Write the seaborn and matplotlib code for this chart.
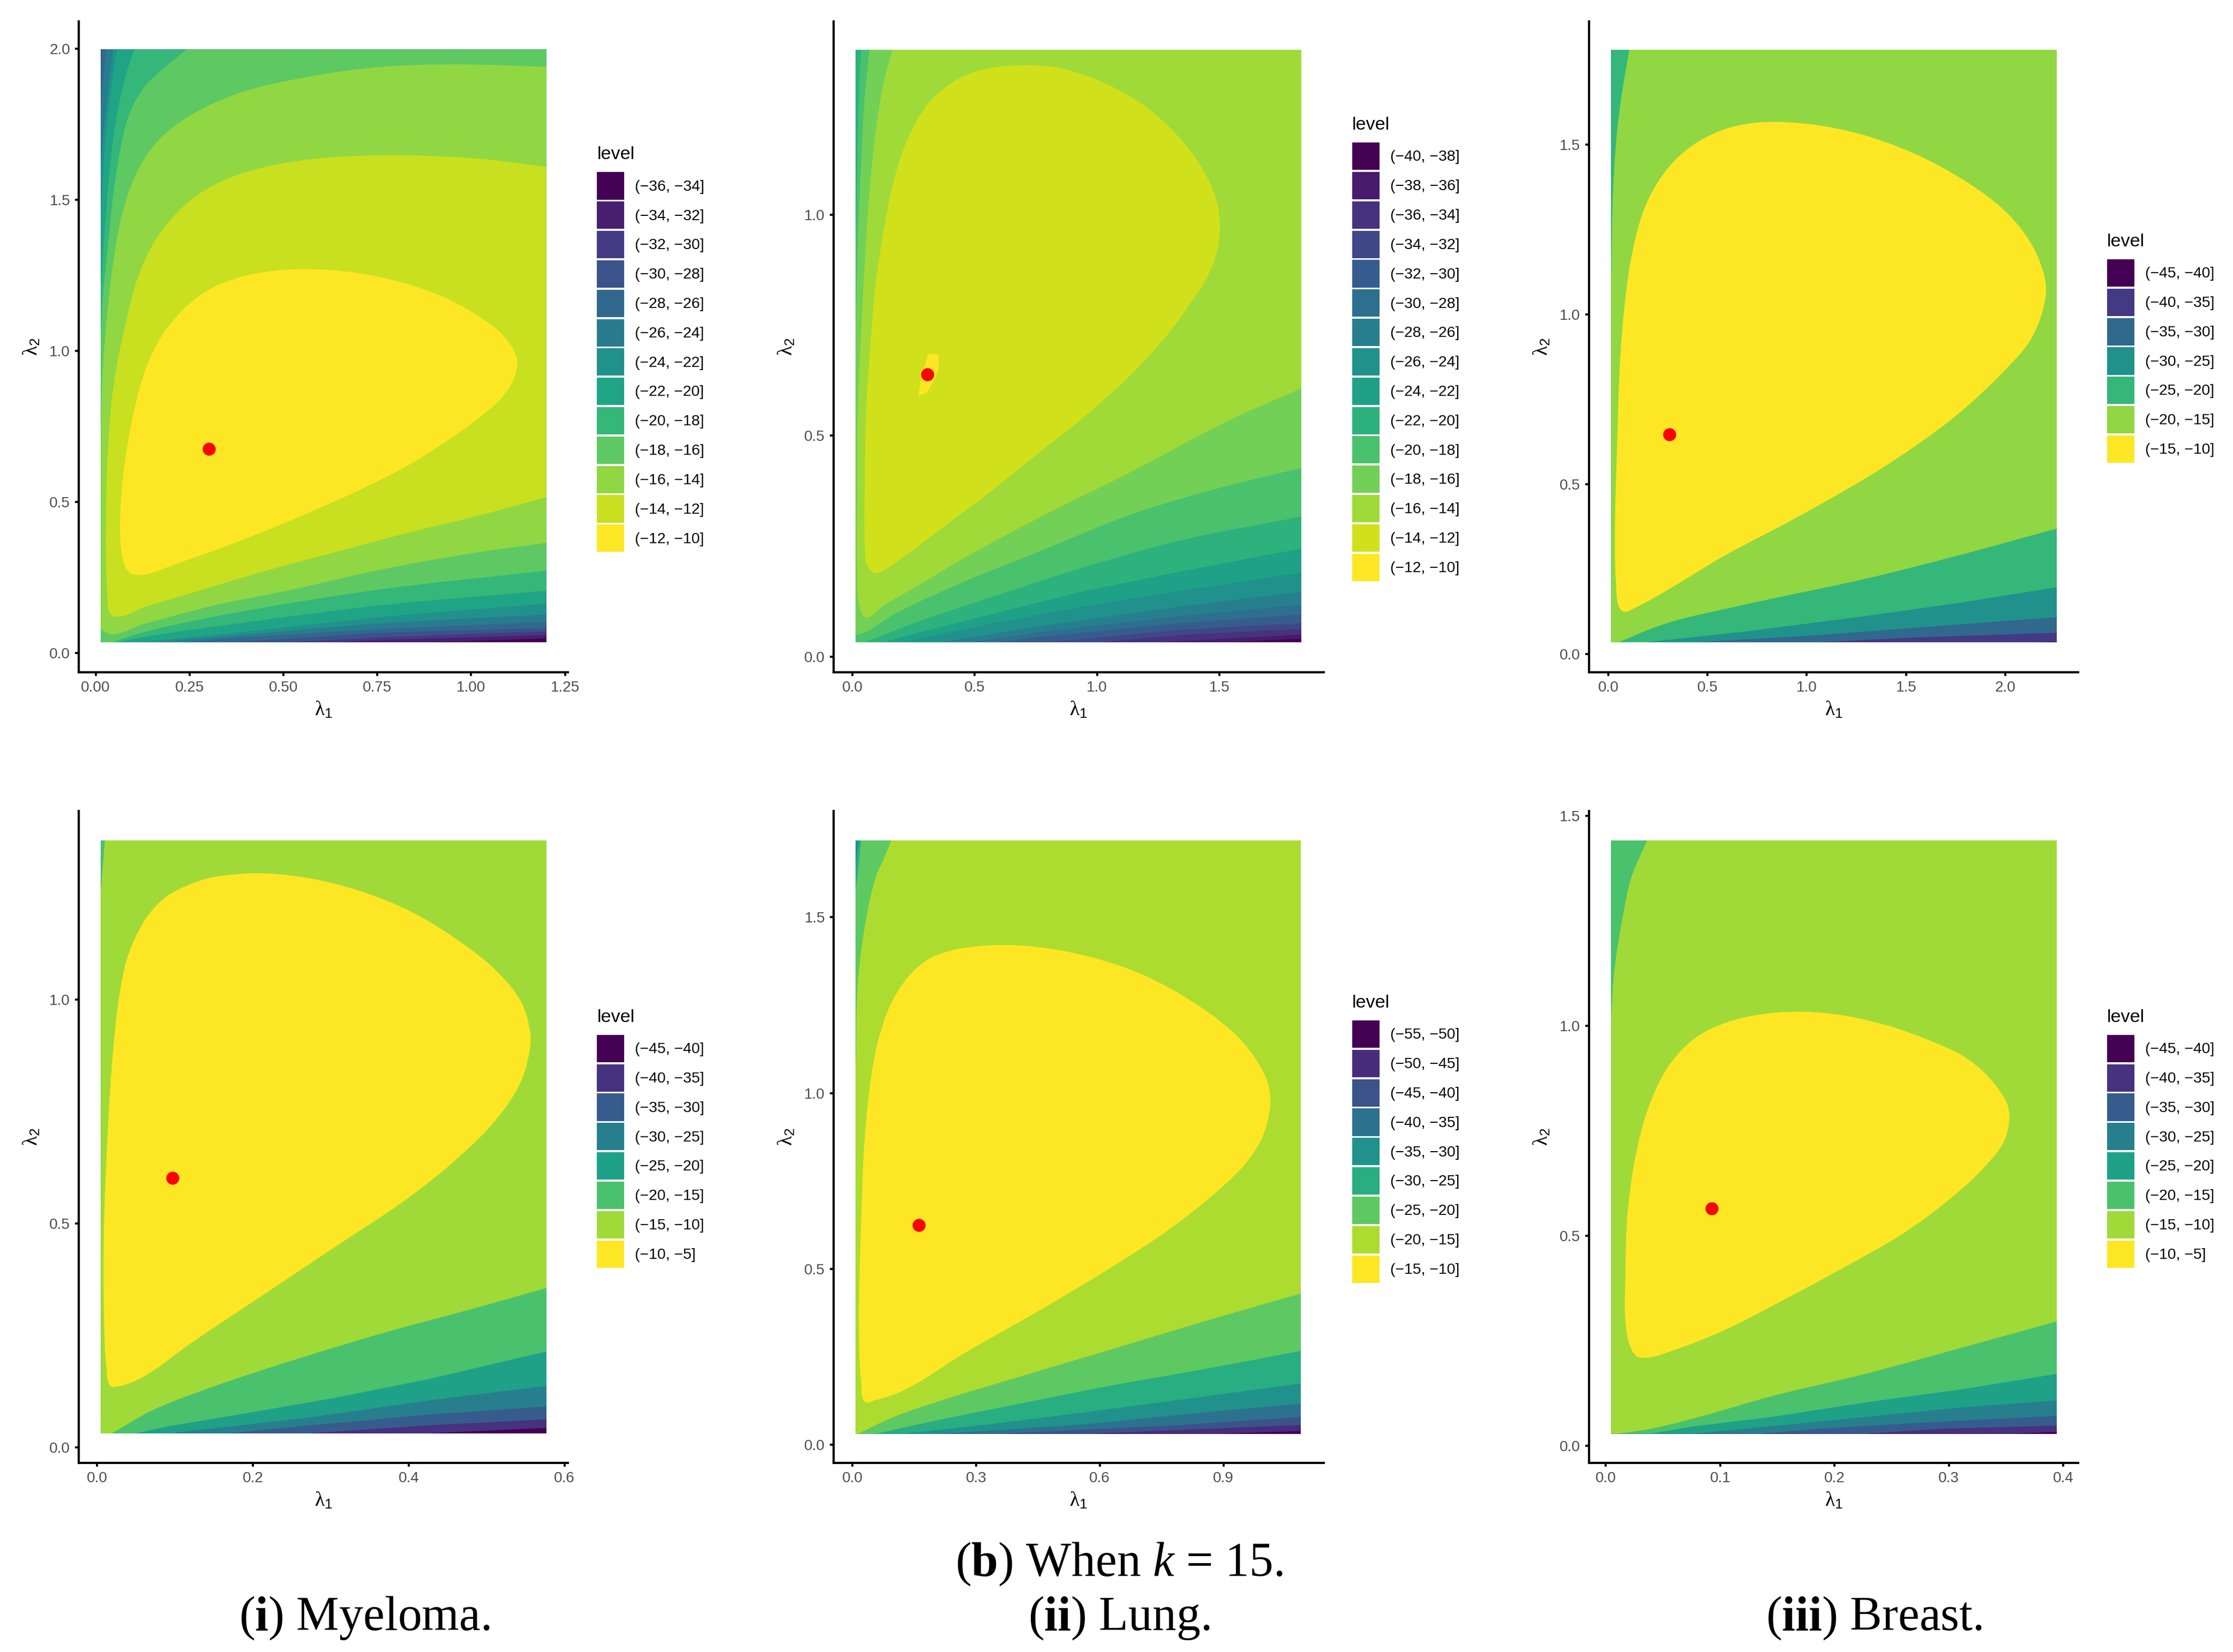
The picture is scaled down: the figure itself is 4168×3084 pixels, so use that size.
import numpy as np
import matplotlib
matplotlib.use("Agg")
import matplotlib.pyplot as plt
from matplotlib.patches import Patch, PathPatch, Rectangle
from matplotlib.path import Path
import seaborn as sns

# ---------- Panel 1: Myeloma, top row ----------
p1_labels = ["(−36, −34]", "(−34, −32]", "(−32, −30]", "(−30, −28]", "(−28, −26]", "(−26, −24]", "(−24, −22]",
             "(−22, −20]", "(−20, −18]", "(−18, −16]", "(−16, −14]", "(−14, −12]", "(−12, −10]"]
p1_best = (0.302, 0.676)
p1_xticks = [0, 0.25, 0.5, 0.75, 1.0, 1.25]
p1_yticks = [0, 0.5, 1.0, 1.5, 2.0]
p1_base = [(.014, .035), (1.2, .035), (1.2, 1.997), (.014, 1.997)]
p1_m34 = [(.014, .035), (.892, .035), (1.2, .048), (1.2, 1.997), (.014, 1.997)]
p1_m32 = [(.014, .035), (.637, .035), (.765, .043), (1.2, .059), (1.2, 1.997), (.014, 1.997)]
p1_m30 = [(.014, .035), (.510, .035), (.765, .052), (1.2, .071), (1.2, 1.997), (.014, 1.997)]
p1_m28 = [(.017, 1.997), (1.2, 1.997), (1.2, .082), (.765, .067), (.357, .035), (.014, .035), (.014, 1.956)]
p1_m26 = [(.028, 1.997), (1.2, 1.997), (1.2, .103), (.765, .079), (.382, .051), (.229, .035), (.014, .035),
          (.014, 1.813), (.019, 1.892)]
p1_m24 = [(.047, 1.997), (1.2, 1.997), (1.2, .127), (.765, .098), (.382, .059), (.166, .035), (.014, .035),
          (.014, 1.623), (.023, 1.750), (.036, 1.892)]
p1_m22 = [(.057, 1.997), (1.2, 1.997), (1.2, .163), (.765, .119), (.382, .068), (.153, .040), (.102, .035),
          (.014, .035), (.014, 1.449), (.017, 1.528), (.025, 1.686), (.036, 1.813), (.047, 1.924)]
p1_m20 = [(.102, 1.997), (1.2, 1.997), (1.2, .206), (.765, .158), (.382, .098), (.127, .052), (.057, .035),
          (.014, .035), (.014, 1.211), (.022, 1.370), (.032, 1.528), (.045, 1.686), (.064, 1.829), (.083, 1.924)]
p1_m18 = [(.242, 1.997), (1.2, 1.997), (1.2, .272), (.765, .211), (.382, .135), (.127, .068), (.045, .035),
          (.014, .035), (.014, 1.053), (.019, 1.180), (.032, 1.338), (.045, 1.496), (.064, 1.655), (.089, 1.781),
          (.127, 1.869), (.178, 1.932)]
p1_m16 = [(1.2, 1.940), (.956, 1.948), (.765, 1.940), (.573, 1.908), (.382, 1.853), (.255, 1.781), (.178, 1.710),
          (.127, 1.631), (.089, 1.528), (.064, 1.417), (.045, 1.275), (.028, 1.085), (.017, .895), (.014, .673),
          (.014, .079), (.038, .062), (.127, .095), (.319, .158), (.510, .206), (.765, .277), (1.019, .333),
          (1.2, .364)]
p1_m14 = [(1.2, 1.609), (1.019, 1.636), (.765, 1.647), (.573, 1.634), (.446, 1.607), (.357, 1.572), (.280, 1.523),
          (.217, 1.457), (.153, 1.354), (.108, 1.227), (.079, 1.085), (.057, .958), (.041, .816), (.032, .657),
          (.028, .499), (.027, .340), (.031, .198), (.038, .130), (.061, .120), (.127, .150), (.255, .198),
          (.446, .269), (.637, .333), (.828, .396), (1.019, .454), (1.2, .515)]
p1_m12 = [(.573, 1.270), (.688, 1.259), (.803, 1.230), (.917, 1.183), (1.007, 1.124), (1.077, 1.061), (1.115, .998),
          (1.123, .963), (1.115, .911), (1.083, .847), (1.019, .776), (.930, .697), (.828, .618), (.701, .538),
          (.573, .467), (.446, .401), (.319, .340), (.229, .301), (.166, .272), (.121, .258), (.087, .269),
          (.070, .325), (.065, .420), (.068, .515), (.079, .641), (.102, .800), (.134, .942), (.178, 1.053),
          (.236, 1.140), (.293, 1.196), (.370, 1.238), (.471, 1.264)]

# ---------- Panel 2: Lung, top row ----------
p2_labels = ["(−40, −38]", "(−38, −36]", "(−36, −34]", "(−34, −32]", "(−32, −30]", "(−30, −28]", "(−28, −26]",
             "(−26, −24]", "(−24, −22]", "(−22, −20]", "(−20, −18]", "(−18, −16]", "(−16, −14]", "(−14, −12]",
             "(−12, −10]"]
p2_best = (0.307, 0.639)
p2_xticks = [0, 0.5, 1.0, 1.5]
p2_yticks = [0, 0.5, 1.0]
p2_base = [(.0137, .0325), (1.835, .0325), (1.835, 1.373), (.0137, 1.373)]
p2_m38 = [(.0137, .0325), (1.537, .0325), (1.835, .041), (1.835, 1.373), (.0137, 1.373)]
p2_m36 = [(.0137, .0325), (1.247, .0325), (1.835, .050), (1.835, 1.373), (.0137, 1.373)]
p2_m34 = [(.0137, .0325), (1.012, .0325), (1.342, .049), (1.835, .063), (1.835, 1.373), (.0137, 1.373)]
p2_m32 = [(.0137, .0325), (.794, .0325), (1.342, .061), (1.835, .076), (1.835, 1.373), (.0137, 1.373)]
p2_m30 = [(.0137, .0325), (.598, .0325), (.755, .044), (1.342, .076), (1.835, .095), (1.835, 1.373), (.0137, 1.373)]
p2_m28 = [(.0137, .0325), (.481, .0325), (.755, .055), (1.342, .092), (1.835, .117), (1.835, 1.373), (.0137, 1.373)]
p2_m26 = [(.0137, .0325), (.364, .0325), (.755, .068), (1.342, .114), (1.835, .147), (1.835, 1.373), (.0137, 1.373)]
p2_m24 = [(.0137, .0325), (.207, .0325), (.559, .074), (.951, .114), (1.342, .149), (1.835, .190), (1.835, 1.373),
          (.0137, 1.373)]
p2_m22 = [(.0137, .0325), (.129, .0325), (.266, .054), (.559, .095), (.951, .149), (1.342, .193), (1.835, .245),
          (1.835, 1.373), (.0137, 1.373)]
p2_m20 = [(.035, 1.373), (1.835, 1.373), (1.835, .317), (1.342, .263), (.951, .203), (.559, .133), (.266, .079),
          (.090, .041), (.051, .0325), (.0137, .0325), (.0137, .945), (.020, 1.107), (.027, 1.269)]
p2_m18 = [(.070, 1.373), (1.835, 1.373), (1.835, .427), (1.537, .387), (1.146, .323), (.755, .236), (.462, .171),
          (.168, .095), (.051, .055), (.0137, .049), (.0137, .750), (.023, .945), (.035, 1.107), (.051, 1.269)]
p2_m16 = [(.164, 1.373), (1.835, 1.373), (1.835, .607), (1.537, .534), (1.146, .420), (.755, .312), (.462, .225),
          (.266, .160), (.129, .117), (.051, .090), (.027, .122), (.020, .187), (.020, .404), (.023, .566),
          (.035, .728), (.051, .891), (.070, 1.053), (.094, 1.183), (.129, 1.302)]
p2_m14 = [(.716, 1.338), (.853, 1.331), (.990, 1.307), (1.146, 1.264), (1.263, 1.215), (1.381, 1.145), (1.439, 1.096),
          (1.483, 1.042), (1.502, .983), (1.488, .912), (1.439, .847), (1.381, .799), (1.303, .739), (1.146, .642),
          (.951, .544), (.755, .458), (.559, .371), (.364, .290), (.207, .225), (.129, .196), (.090, .189), (.057, .214),
          (.051, .252), (.051, .404), (.057, .566), (.070, .674), (.094, .837), (.129, .966), (.168, 1.075),
          (.227, 1.172), (.305, 1.248), (.403, 1.297), (.520, 1.326)]
p2_m12 = [(.309, .684), (.350, .684), (.354, .653), (.334, .626), (.305, .598), (.270, .590), (.282, .631),
          (.305, .674)]

# ---------- Panel 3: Breast, top row ----------
p3_labels = ["(−45, −40]", "(−40, −35]", "(−35, −30]", "(−30, −25]", "(−25, −20]", "(−20, −15]", "(−15, −10]"]
p3_best = (0.308, 0.646)
p3_xticks = [0, 0.5, 1.0, 1.5, 2.0]
p3_yticks = [0, 0.5, 1.0, 1.5]
p3_base = [(.0145, .0338), (2.260, .0338), (2.260, 1.779), (.0145, 1.779)]
p3_m40 = [(.0145, .0338), (2.116, .0338), (2.260, .0355), (2.260, 1.779), (.0145, 1.779)]
p3_m35 = [(.0145, .0338), (1.055, .0338), (1.537, .048), (2.260, .062), (2.260, 1.779), (.0145, 1.779)]
p3_m30 = [(.0145, .0338), (.429, .0338), (1.055, .055), (1.778, .087), (2.260, .108), (2.260, 1.779), (.0145, 1.779)]
p3_m25 = [(.0145, .0338), (.188, .0338), (.694, .066), (1.296, .111), (1.778, .151), (2.260, .196), (2.260, 1.779),
          (.0145, 1.779)]
p3_m20 = [(.106, 1.779), (2.260, 1.779), (2.260, .369), (1.778, .292), (1.296, .221), (.814, .161), (.573, .130),
          (.333, .097), (.212, .073), (.051, .0338), (.0145, .0338), (.0145, 1.123), (.024, 1.362), (.043, 1.531),
          (.067, 1.644)]
p3_m15 = [(.863, 1.566), (1.104, 1.552), (1.345, 1.517), (1.610, 1.454), (1.875, 1.362), (2.019, 1.292), (2.116, 1.221),
          (2.176, 1.151), (2.205, 1.080), (2.188, 1.010), (2.128, .925), (2.019, .848), (1.778, .714), (1.537, .608),
          (1.296, .517), (.935, .397), (.573, .285), (.333, .200), (.140, .137), (.080, .124), (.055, .137),
          (.039, .207), (.034, .376), (.043, .587), (.060, .869), (.087, 1.052), (.120, 1.179), (.188, 1.320),
          (.284, 1.418), (.405, 1.489), (.573, 1.542), (.718, 1.562)]

# ---------- Panel 4: Myeloma, bottom row ----------
p4_labels = ["(−45, −40]", "(−40, −35]", "(−35, −30]", "(−30, −25]", "(−25, −20]", "(−20, −15]", "(−15, −10]",
             "(−10, −5]"]
p4_best = (0.097, 0.602)
p4_xticks = [0, 0.2, 0.4, 0.6]
p4_yticks = [0, 0.5, 1.0]
p4_base = [(.0049, .030), (.577, .030), (.577, 1.356), (.0049, 1.356)]
p4_m40 = [(.0049, .030), (.416, .030), (.577, .043), (.577, 1.356), (.0049, 1.356)]
p4_m35 = [(.0049, .030), (.265, .030), (.428, .049), (.577, .062), (.577, 1.356), (.0049, 1.356)]
p4_m30 = [(.0049, .030), (.164, .030), (.275, .049), (.428, .073), (.577, .091), (.577, 1.356), (.0049, 1.356)]
p4_m25 = [(.0049, .030), (.090, .030), (.275, .067), (.428, .105), (.577, .137), (.577, 1.356), (.0049, 1.356)]
p4_m20 = [(.0049, .030), (.047, .030), (.090, .046), (.182, .073), (.305, .110), (.428, .153), (.577, .214),
          (.577, 1.356), (.0049, 1.356)]
p4_m15 = [(.010, 1.356), (.577, 1.356), (.577, .356), (.490, .313), (.367, .255), (.244, .190), (.152, .137),
          (.072, .083), (.018, .030), (.0049, .030), (.0049, 1.244)]
p4_m10 = [(.207, 1.283), (.268, 1.273), (.336, 1.244), (.404, 1.196), (.465, 1.131), (.514, 1.062), (.545, .993),
          (.556, .928), (.556, .896), (.545, .821), (.514, .736), (.459, .640), (.397, .554), (.305, .447),
          (.213, .340), (.121, .233), (.060, .158), (.028, .136), (.017, .137), (.012, .180), (.009, .287),
          (.009, .501), (.014, .714), (.020, .875), (.029, 1.014), (.038, 1.089), (.050, 1.142), (.066, 1.190),
          (.087, 1.228), (.115, 1.255), (.146, 1.273), (.182, 1.281)]

# ---------- Panel 5: Lung, bottom row ----------
p5_labels = ["(−55, −50]", "(−50, −45]", "(−45, −40]", "(−40, −35]", "(−35, −30]", "(−30, −25]", "(−25, −20]",
             "(−20, −15]", "(−15, −10]"]
p5_best = (0.161, 0.624)
p5_xticks = [0, 0.3, 0.6, 0.9]
p5_yticks = [0, 0.5, 1.0, 1.5]
p5_base = [(.0081, .031), (1.088, .031), (1.088, 1.718), (.0081, 1.718)]
p5_m50 = [(.0081, .031), (.889, .031), (1.088, .039), (1.088, 1.718), (.0081, 1.718)]
p5_m45 = [(.0081, .031), (.575, .031), (.796, .042), (1.088, .056), (1.088, 1.718), (.0081, 1.718)]
p5_m40 = [(.0081, .031), (.355, .031), (.796, .056), (1.088, .079), (1.088, 1.718), (.0081, 1.718)]
p5_m35 = [(.0081, .031), (.216, .031), (.564, .058), (.854, .092), (1.088, .117), (1.088, 1.718), (.0081, 1.718)]
p5_m30 = [(.016, 1.718), (1.088, 1.718), (1.088, .174), (.854, .137), (.564, .092), (.332, .058), (.123, .031),
          (.0081, .031), (.0081, 1.650)]
p5_m25 = [(.021, 1.718), (1.088, 1.718), (1.088, .267), (.854, .215), (.622, .167), (.390, .113), (.216, .072),
          (.056, .031), (.0081, .031), (.0081, 1.582), (.014, 1.636)]
p5_m20 = [(.094, 1.718), (1.088, 1.718), (1.088, .430), (.854, .351), (.622, .269), (.390, .188), (.216, .126),
          (.100, .079), (.013, .031), (.0081, .031), (.0081, 1.078), (.013, 1.310), (.030, 1.473), (.059, 1.622),
          (.077, 1.668)]
p5_m15 = [(.378, 1.421), (.471, 1.412), (.587, 1.384), (.703, 1.337), (.831, 1.255), (.935, 1.160), (.981, 1.092),
          (1.005, 1.038), (1.014, .983), (.999, .888), (.958, .806), (.889, .725), (.773, .616), (.622, .500),
          (.448, .378), (.274, .262), (.123, .154), (.053, .126), (.030, .122), (.021, .181), (.016, .358), (.021, .630),
          (.030, .874), (.048, 1.065), (.065, 1.160), (.094, 1.255), (.135, 1.330), (.181, 1.378), (.239, 1.405),
          (.309, 1.418)]

# ---------- Panel 6: Breast, bottom row ----------
p6_labels = ["(−45, −40]", "(−40, −35]", "(−35, −30]", "(−30, −25]", "(−25, −20]", "(−20, −15]", "(−15, −10]",
             "(−10, −5]"]
p6_best = (0.0925, 0.565)
p6_xticks = [0, 0.1, 0.2, 0.3, 0.4]
p6_yticks = [0, 0.5, 1.0, 1.5]
p6_base = [(.0046, .0285), (.3946, .0285), (.3946, 1.441), (.0046, 1.441)]
p6_m40 = [(.0046, .0285), (.357, .0285), (.3946, .033), (.3946, 1.441), (.0046, 1.441)]
p6_m35 = [(.0046, .0285), (.227, .0285), (.290, .040), (.3946, .048), (.3946, 1.441), (.0046, 1.441)]
p6_m30 = [(.0046, .0285), (.135, .0285), (.185, .040), (.290, .057), (.3946, .071), (.3946, 1.441), (.0046, 1.441)]
p6_m25 = [(.0046, .0285), (.077, .0285), (.185, .057), (.311, .091), (.3946, .108), (.3946, 1.441), (.0046, 1.441)]
p6_m20 = [(.0046, .0285), (.039, .0285), (.077, .046), (.144, .068), (.227, .103), (.311, .134), (.3946, .171),
          (.3946, 1.441), (.0046, 1.441)]
p6_m15 = [(.036, 1.441), (.3946, 1.441), (.3946, .296), (.311, .233), (.227, .171), (.144, .117), (.081, .068),
          (.039, .040), (.011, .0285), (.0046, .0285), (.0046, 1.019), (.0075, 1.133), (.014, 1.247), (.022, 1.350)]
p6_m10 = [(.173, 1.033), (.206, 1.025), (.248, .999), (.290, .957), (.311, .930), (.328, .896), (.342, .854),
          (.351, .814), (.353, .786), (.349, .729), (.332, .666), (.303, .592), (.261, .507), (.206, .421), (.152, .342),
          (.102, .273), (.060, .228), (.037, .210), (.027, .213), (.021, .239), (.017, .302), (.017, .393), (.019, .552),
          (.026, .689), (.037, .803), (.054, .900), (.077, .968), (.106, 1.008), (.139, 1.028)]

# ---------- Assemble ----------
W, H = 4168, 3084
DPI = 300
COL = [(147.3, 1060.0), (1556.3, 2470.5), (2966.2, 3878.7)]
ROW = [(40.0, 1254.5), (1514.0, 2731.0)]

panels = [
    dict(col=0, row=0, xfmt="%.2f", best=p1_best, xt=p1_xticks, yt=p1_yticks, labels=p1_labels,
         xlim=(-.0446, 1.2577), ylim=(-.0633, 2.09), key=(1114.3, 321.4),
         polys=[p1_base, p1_m34, p1_m32, p1_m30, p1_m28, p1_m26, p1_m24, p1_m22, p1_m20, p1_m18, p1_m16, p1_m14, p1_m12]),
    dict(col=1, row=0, xfmt="%.1f", best=p2_best, xt=p2_xticks, yt=p2_yticks, labels=p2_labels,
         xlim=(-.076, 1.926), ylim=(-.0346, 1.437), key=(2524.1, 266.1),
         polys=[p2_base, p2_m38, p2_m36, p2_m34, p2_m32, p2_m30, p2_m28, p2_m26, p2_m24, p2_m22, p2_m20, p2_m18, p2_m16,
                p2_m14, p2_m12]),
    dict(col=2, row=0, xfmt="%.1f", best=p3_best, xt=p3_xticks, yt=p3_yticks, labels=p3_labels,
         xlim=(-.0964, 2.366), ylim=(-.0535, 1.862), key=(3933.2, 483.9),
         polys=[p3_base, p3_m40, p3_m35, p3_m30, p3_m25, p3_m20, p3_m15]),
    dict(col=0, row=1, xfmt="%.1f", best=p4_best, xt=p4_xticks, yt=p4_yticks, labels=p4_labels,
         xlim=(-.0233, .6044), ylim=(-.0353, 1.422), key=(1114.3, 1931.8),
         polys=[p4_base, p4_m40, p4_m35, p4_m30, p4_m25, p4_m20, p4_m15, p4_m10]),
    dict(col=1, row=1, xfmt="%.1f", best=p5_best, xt=p5_xticks, yt=p5_yticks, labels=p5_labels,
         xlim=(-.0452, 1.143), ylim=(-.0517, 1.802), key=(2524.1, 1905.0),
         polys=[p5_base, p5_m50, p5_m45, p5_m40, p5_m35, p5_m30, p5_m25, p5_m20, p5_m15]),
    dict(col=2, row=1, xfmt="%.1f", best=p6_best, xt=p6_xticks, yt=p6_yticks, labels=p6_labels,
         xlim=(-.0146, .413), ylim=(-.041, 1.511), key=(3933.2, 1931.8),
         polys=[p6_base, p6_m40, p6_m35, p6_m30, p6_m25, p6_m20, p6_m15, p6_m10]),
]


def smooth_path(poly, base):
    """Closed Bezier path through the read points; points on the panel's edge stay corners."""
    pts = np.array(poly, float)
    b = np.array(base, float)
    lo, hi = b.min(axis=0), b.max(axis=0)
    span = hi - lo
    q = (pts - lo) / span
    n = len(q)
    on_edge = (np.isclose(pts[:, 0], lo[0]) | np.isclose(pts[:, 0], hi[0])
               | np.isclose(pts[:, 1], lo[1]) | np.isclose(pts[:, 1], hi[1]))

    def tangent(k):
        a = q[k] - q[(k - 1) % n]
        c = q[(k + 1) % n] - q[k]
        t = a / np.hypot(*a) + c / np.hypot(*c)
        return t / np.hypot(*t)

    verts, codes = [pts[0]], [Path.MOVETO]
    for i in range(n):
        j = (i + 1) % n
        seg = q[j] - q[i]
        d = np.hypot(*seg)
        u = seg / d
        # short outlines keep straight sides, as does a run along the panel's edge
        if (on_edge[i] and on_edge[j]) or n < 10:
            verts.append(pts[j])
            codes.append(Path.LINETO)
            continue
        ti = u if on_edge[i] else tangent(i)
        tj = u if on_edge[j] else tangent(j)
        c1 = (q[i] + ti * d / 3) * span + lo
        c2 = (q[j] - tj * d / 3) * span + lo
        verts += [c1, c2, pts[j]]
        codes += [Path.CURVE4, Path.CURVE4, Path.CURVE4]
    verts.append(pts[0])
    codes.append(Path.CLOSEPOLY)
    return Path(verts, codes)


sns.set_theme(style="ticks")
plt.rcParams["font.family"] = ["Liberation Sans", "DejaVu Sans"]
plt.rcParams["mathtext.fontset"] = "custom"
plt.rcParams["mathtext.rm"] = "Liberation Serif"
plt.rcParams["mathtext.it"] = "Liberation Serif:italic"
plt.rcParams["mathtext.bf"] = "Liberation Serif:bold"
plt.rcParams["mathtext.sf"] = "Liberation Sans"

fig = plt.figure(figsize=(W / DPI, H / DPI), dpi=DPI, facecolor="white")

for p in panels:
    x0, x1 = COL[p["col"]]
    y0, y1 = ROW[p["row"]]
    ax = fig.add_axes([x0 / W, 1 - y1 / H, (x1 - x0) / W, (y1 - y0) / H])
    n = len(p["polys"])
    colors = [matplotlib.colormaps["viridis"](v) for v in np.linspace(0, 1, n)]
    base = p["polys"][0]
    bx, by = zip(*base)
    clip = Rectangle((min(bx), min(by)), max(bx) - min(bx), max(by) - min(by), transform=ax.transData)
    for poly, c in zip(p["polys"], colors):
        patch = PathPatch(smooth_path(poly, base), facecolor=c, edgecolor="none", lw=0, zorder=1)
        ax.add_patch(patch)
        patch.set_clip_path(clip)
    sns.scatterplot(x=[p["best"][0]], y=[p["best"][1]], color="#ff0000", s=34, linewidth=0, ax=ax, zorder=3)

    ax.set_xlim(*p["xlim"])
    ax.set_ylim(*p["ylim"])
    ax.set_xticks(p["xt"])
    ax.set_xticklabels([p["xfmt"] % v for v in p["xt"]])
    ax.set_yticks(p["yt"])
    ax.set_yticklabels(["%.1f" % v for v in p["yt"]])
    ax.tick_params(axis="both", length=1.7, width=0.9, pad=2.2, labelsize=6.7, colors="#000000", labelcolor="#4d4d4d")
    ax.set_xlabel(r"$\mathrm{\lambda}_{\mathsf{1}}$", fontsize=9, labelpad=2.5, color="black")
    ax.set_ylabel(r"$\mathrm{\lambda}_{\mathsf{2}}$", fontsize=9, labelpad=3.5, color="black")
    sns.despine(ax=ax)
    for s in ("left", "bottom"):
        ax.spines[s].set_linewidth(1.0)
        ax.spines[s].set_color("black")

    kx, ky = p["key"]
    handles = [Patch(facecolor=c, edgecolor="none") for c in colors]
    fig.legend(handles, p["labels"], loc="upper left", bbox_to_anchor=(kx / W, 1 - ky / H),
               bbox_transform=fig.transFigure, frameon=False, fontsize=6.8, borderpad=0, borderaxespad=0,
               handlelength=1.79, handleheight=2.40, labelspacing=0.13, handletextpad=0.72, labelcolor="black")
    fig.text(kx / W, 1 - (ky - 24) / H, "level", fontsize=8.2, color="black", ha="left", va="baseline")

cap_kw = dict(fontsize=21.5, family="Liberation Serif", color="black", ha="center", va="baseline")
fig.text(2089 / W, 1 - 2942 / H, r"($\mathbf{b}$) When $k$ = 15.", **cap_kw)
fig.text(680 / W, 1 - 3043 / H, r"($\mathbf{i}$) Myeloma.", **cap_kw)
fig.text(2089 / W, 1 - 3043 / H, r"($\mathbf{ii}$) Lung.", **cap_kw)
fig.text(3498 / W, 1 - 3043 / H, r"($\mathbf{iii}$) Breast.", **cap_kw)

fig.savefig("out.png", dpi=DPI, facecolor="white")
